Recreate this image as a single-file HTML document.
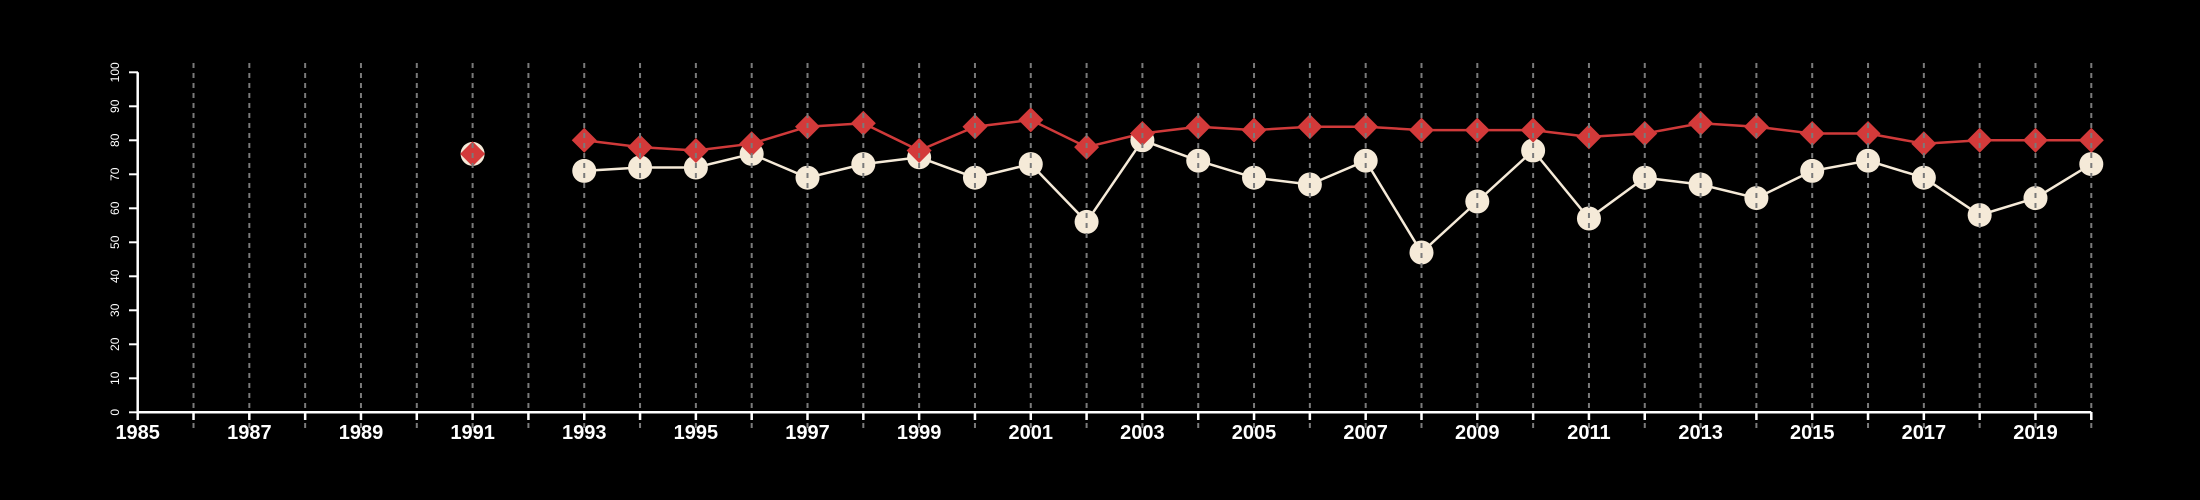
<!DOCTYPE html>
<html><head><meta charset="utf-8"><style>
html,body{margin:0;padding:0;background:#000;}
svg{display:block;}
text{font-family:"Liberation Sans",sans-serif;fill:#fff;}
</style></head><body>
<svg id="chart" width="2200" height="500" xmlns="http://www.w3.org/2000/svg">
<rect width="2200" height="500" fill="#000"/>
<g id="series"></g>
<g id="grid"></g>
<g id="axes"></g>
</svg>
<script>
const years = [1991,1993,1994,1995,1996,1997,1998,1999,2000,2001,2002,2003,2004,2005,2006,2007,2008,2009,2010,2011,2012,2013,2014,2015,2016,2017,2018,2019,2020];
const redValues = [76,80,78,77,79,84,85,77,84,86,78,82,84,83,84,84,83,83,83,81,82,85,84,82,82,79,80,80,80];
const whiteValues = [76,71,72,72,76,69,73,75,69,73,56,80,74,69,67,74,47,62,77,57,69,67,63,71,74,69,58,63,73];
const yTicks = [0,10,20,30,40,50,60,70,80,90,100];
const xTickLabels = [1985,1987,1989,1991,1993,1995,1997,1999,2001,2003,2005,2007,2009,2011,2013,2015,2017,2019];
const xMin=1985,xMax=2020;
const NS='http://www.w3.org/2000/svg';
function X(v){return 137.7+(v-xMin)*(2091.3-137.7)/(xMax-xMin);}
function Y(v){return 412.3-v*3.4;}
function mk(tag,attrs,parent){const e=document.createElementNS(NS,tag);for(const k in attrs)e.setAttribute(k,attrs[k]);parent.appendChild(e);return e;}
const gs=document.getElementById('series'),gg=document.getElementById('grid'),ga=document.getElementById('axes');
for(let yr=1986;yr<=2020;yr++){
  const l=mk('line',{x1:X(yr),x2:X(yr),y1:63,y2:428,stroke:'#7a7a7a','stroke-width':2,'stroke-dasharray':'5,5'},gg);
  
  
}
function path(vals){let d='';let prev=null;for(let i=0;i<years.length;i++){const c=(prev!==null&&years[i]-prev===1)?'L':'M';d+=c+X(years[i])+','+Y(vals[i]);prev=years[i];}return d;}
const wl=mk('path',{d:path(whiteValues),stroke:'#f5ead8','stroke-width':2.5,fill:'none'},gs);


const rl=mk('path',{d:path(redValues),stroke:'#d03a3a','stroke-width':2.5,fill:'none'},gs);


for(let i=0;i<years.length;i++){
  const c=mk('circle',{cx:X(years[i]),cy:Y(whiteValues[i]),r:12,fill:'#f5ead8'},gs);
  
  
}
for(let i=0;i<years.length;i++){
  const x=X(years[i]),y=Y(redValues[i]),s=12.5;
  const p=mk('polygon',{points:`${x},${y-s} ${x+s},${y} ${x},${y+s} ${x-s},${y}`,fill:'#d33a3a'},gs);
  
  
}
const xa=mk('line',{x1:X(1985),x2:X(2020),y1:412.3,y2:412.3,stroke:'#fff','stroke-width':2.5},ga);


const ya=mk('line',{x1:137.7,x2:137.7,y1:Y(100),y2:Y(0),stroke:'#fff','stroke-width':2.5},ga);


for(let yr=1985;yr<=2020;yr++){
  const t=mk('line',{x1:X(yr),x2:X(yr),y1:412,y2:420,stroke:'#fff','stroke-width':2.5},ga);
  
  
}
xTickLabels.forEach(v=>{
  const t=mk('text',{x:X(v),y:439,'text-anchor':'middle','font-size':20,'font-weight':'bold'},ga);
  t.textContent=v;
  
  
});
yTicks.forEach(v=>{
  const t=mk('line',{x1:129,x2:138,y1:Y(v),y2:Y(v),stroke:'#fff','stroke-width':2},ga);
  
  
  const tx=mk('text',{x:0,y:0,'text-anchor':'middle','font-size':12,transform:`translate(119,${Y(v)}) rotate(-90)`},ga);
  tx.textContent=v;
  
  
});
</script>
</body></html>
